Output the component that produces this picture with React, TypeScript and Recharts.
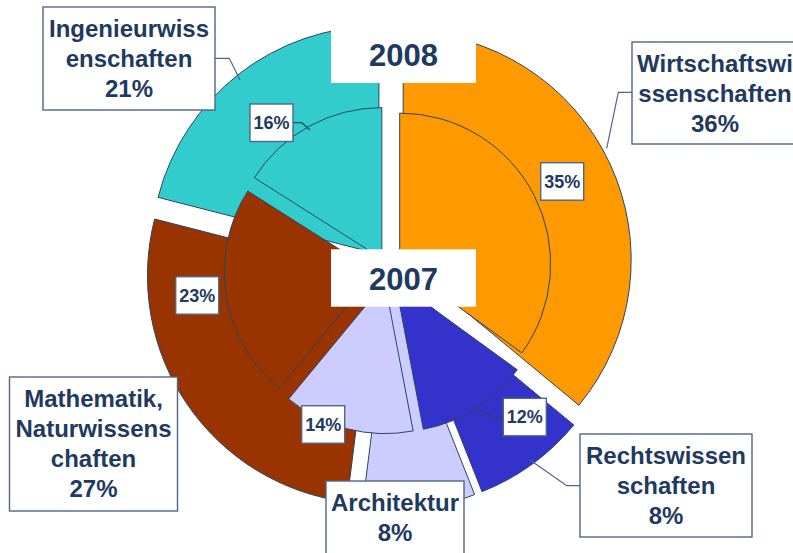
import React from 'react';
import { PieChart, Pie, Cell } from 'recharts';

// ---------- data ----------
const CATEGORIES = [
  'Wirtschaftswissenschaften',
  'Rechtswissenschaften',
  'Architektur',
  'Mathematik, Naturwissenschaften',
  'Ingenieurwissenschaften',
];
const SHARE_2008 = [36, 8, 8, 27, 21];
const SHARE_2007 = [35, 12, 14, 23, 16];
const YEARS = ['2008', '2007'];

// ---------- style / layout ----------
const COLORS = ['#FF9900', '#3333CC', '#CCCCFF', '#993300', '#33CCCC'];
const TEXT = '#1F3A60';
const BOX_STROKE = '#4E6688';
const SLICE_STROKE = '#2A4468';
const FONT = '"Liberation Sans", Arial, sans-serif';

const W = 793;
const H = 553;
const OUTER = { cx: 388.7, cy: 266.7, r: 228, explode: 16 };
const INNER = { cx: 388.1, cy: 270, r: 151, explode: 13 };

const OUTER_LABELS = [
  { x: 632, y: 42, w: 166, h: 102, wrap: 13, leader: [[632, 92.3], [618.3, 92.3], [606.7, 148.3]] },
  { x: 580, y: 434, w: 172, h: 103, wrap: 12, leader: [[580, 485.7], [566.7, 485.7], [530, 460]] },
  { x: 326, y: 481, w: 138, h: 90, wrap: 12, leader: null },
  { x: 9.5, y: 377, w: 168, h: 134, wrap: 12, leader: null },
  { x: 43, y: 7, w: 172, h: 103, wrap: 13, leader: [[215, 58.3], [229.3, 58.3], [240, 80]] },
];
const INNER_LABELS = [
  { x: 540.7, y: 162.7, leader: null },
  { x: 503.3, y: 398.3, leader: [[503.3, 416.7], [493.3, 416.7], [473.3, 407.3]] },
  { x: 301.7, y: 405.7, leader: null },
  { x: 175.7, y: 276.7, leader: null },
  { x: 250, y: 104, leader: [[292.7, 122.7], [301.7, 122.7], [310, 130]] },
];
const YEAR_BOXES = [
  { x: 331, y: -1, w: 145, h: 84, baseline: 65.5 },
  { x: 331, y: 249.3, w: 145, h: 57.4, baseline: 290 },
];

const data2008 = CATEGORIES.map((name, i) => ({ name, value: SHARE_2008[i] }));
const data2007 = CATEGORIES.map((name, i) => ({ name, value: SHARE_2007[i] }));

// explode each slice along its bisector (clockwise from 12 o'clock)
function explodeOffsets(values: number[], dist: number) {
  const total = values.reduce((a, b) => a + b, 0);
  let cum = 0;
  return values.map((v) => {
    const mid = 90 - ((cum + v / 2) / total) * 360;
    cum += v;
    const rad = (mid * Math.PI) / 180;
    return [dist * Math.cos(rad), -dist * Math.sin(rad)];
  });
}
const OFF_2008 = explodeOffsets(SHARE_2008, OUTER.explode);
const OFF_2007 = explodeOffsets(SHARE_2007, INNER.explode);

function wrapChars(text: string, max: number) {
  const out: string[] = [];
  text.split(' ').forEach((word) => {
    let w = word;
    while (w.length > max) {
      out.push(w.slice(0, max));
      w = w.slice(max);
    }
    out.push(w);
  });
  return out;
}

const pts = (p: number[][]) => p.map((q) => q.join(',')).join(' ');

const renderOuterLabel = (props: any) => {
  const { index, value } = props;
  const name = props.payload?.name ?? props.name;
  const L = OUTER_LABELS[index];
  const lines = [...wrapChars(name, L.wrap), `${value}%`];
  const tx = L.x + L.w / 2;
  return (
    <g key={`ol-${index}`}>
      {L.leader && <polyline points={pts(L.leader)} fill="none" stroke={BOX_STROKE} strokeWidth={1.2} />}
      <rect x={L.x} y={L.y} width={L.w} height={L.h} fill="#fff" stroke={BOX_STROKE} strokeWidth={1.4} />
      <text textAnchor="middle" fontFamily={FONT} fontWeight="bold" fontSize={24} fill={TEXT}>
        {lines.map((ln, i) => (
          <tspan key={i} x={tx} y={L.y + 29.5 + i * 30.3}>
            {ln}
          </tspan>
        ))}
      </text>
    </g>
  );
};

const renderInnerLabel = (props: any) => {
  const { index, value } = props;
  const L = INNER_LABELS[index];
  return (
    <g key={`il-${index}`}>
      {L.leader && <polyline points={pts(L.leader)} fill="none" stroke={SLICE_STROKE} strokeWidth={1.2} />}
      <rect x={L.x} y={L.y} width={43} height={37.5} fill="#fff" stroke={BOX_STROKE} strokeWidth={1.4} />
      <text x={L.x + 21.5} y={L.y + 25} textAnchor="middle" fontFamily={FONT} fontWeight="bold" fontSize={18} fill={TEXT}>
        {`${value}%`}
      </text>
      {index === CATEGORIES.length - 1 &&
        YEAR_BOXES.map((b, i) => (
          <g key={`yb-${i}`}>
            <rect x={b.x} y={b.y} width={b.w} height={b.h} fill="#fff" />
            <text x={b.x + b.w / 2} y={b.baseline} textAnchor="middle" fontFamily={FONT} fontWeight="bold" fontSize={31} fill={TEXT}>
              {YEARS[i]}
            </text>
          </g>
        ))}
    </g>
  );
};

export default function App() {
  return (
    <div style={{ position: 'absolute', left: 0, top: 0, width: W, height: H, background: '#fff' }}>
      <PieChart width={W} height={H} margin={{ top: 0, right: 0, bottom: 0, left: 0 }}>
        <Pie
          data={data2008}
          dataKey="value"
          nameKey="name"
          cx={OUTER.cx}
          cy={OUTER.cy}
          innerRadius={0}
          outerRadius={OUTER.r}
          startAngle={90}
          endAngle={-270}
          stroke={SLICE_STROKE}
          strokeWidth={1}
          isAnimationActive={false}
          label={renderOuterLabel}
          labelLine={false}
        >
          {data2008.map((d, i) => (
            <Cell key={d.name} fill={COLORS[i]} transform={`translate(${OFF_2008[i][0]},${OFF_2008[i][1]})`} />
          ))}
        </Pie>
        <Pie
          data={data2007}
          dataKey="value"
          nameKey="name"
          cx={INNER.cx}
          cy={INNER.cy}
          innerRadius={0}
          outerRadius={INNER.r}
          startAngle={90}
          endAngle={-270}
          stroke={SLICE_STROKE}
          strokeWidth={1}
          isAnimationActive={false}
          label={renderInnerLabel}
          labelLine={false}
        >
          {data2007.map((d, i) => (
            <Cell key={d.name} fill={COLORS[i]} transform={`translate(${OFF_2007[i][0]},${OFF_2007[i][1]})`} />
          ))}
        </Pie>
      </PieChart>
    </div>
  );
}
